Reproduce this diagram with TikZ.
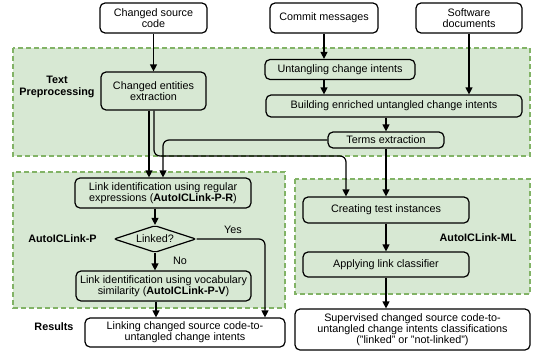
\documentclass[tikz,border=0pt]{standalone}
\usepackage{fontspec}
\setmainfont{Liberation Sans}
\usetikzlibrary{arrows.meta,shapes.geometric}
\definecolor{regfill}{RGB}{215,232,211}
\definecolor{regborder}{RGB}{130,179,102}
\newcommand\dgfont{\fontsize{10.8}{11.2}\selectfont}
\tikzset{
  region/.style={draw=regborder, fill=regfill, dash pattern=on 5pt off 3pt, line width=1.1pt},
  box/.style={draw=black, rounded corners=5pt, line width=1.2pt, inner sep=0pt, align=center, font=\dgfont},
  wbox/.style={box, fill=white},
  arr/.style={-{Triangle[length=7pt,width=7pt]}, line width=1.2pt},
  lbl/.style={font=\bfseries\dgfont, align=center, inner sep=0pt}
}
\begin{document}
\begin{tikzpicture}[x=1pt,y=-1pt]
\useasboundingbox (0,0) rectangle (534,351);
% regions
\draw[region] (13,48) rectangle (530,156);
\draw[region] (13,172) rectangle (285,308);
\draw[region] (295,179) rectangle (530,294);
% labels
\node[lbl] (ltp) at (57,87) {Text\\Preprocessing};
\node[lbl] (lp) at (62.5,239) {AutoICLink-P};
\node[lbl] (lml) at (478,238) {AutoICLink-ML};
\node[lbl] (lres) at (54,327) {Results};
% top inputs
\node[wbox, minimum width=107, minimum height=30] (csc) at (153.5,18) {Changed source\\code};
\node[wbox, minimum width=108, minimum height=30] (cm) at (324,18) {Commit messages};
\node[wbox, minimum width=106, minimum height=30] (sd) at (469,18) {Software\\documents};
% text preprocessing
\node[box, minimum width=105, minimum height=38] (cee) at (153.5,91) {Changed entities\\extraction};
\node[box, minimum width=150, minimum height=20] (uci) at (340,69.5) {Untangling change intents};
\node[box, minimum width=256, minimum height=22] (beu) at (394,106) {Building enriched untangled change intents};
\node[box, minimum width=116, minimum height=16] (te) at (386,140) {Terms extraction};
% AutoICLink-P
\node[box, minimum width=176, minimum height=30] (lir) at (163,193) {Link identification using regular\\expressions (\textbf{AutoICLink-P-R})};
\node[box, shape=diamond, rounded corners=2pt, aspect=3, minimum width=82, minimum height=27] (dia) at (155,239) {Linked?};
\node[box, minimum width=175, minimum height=30] (liv) at (163.5,286) {Link identification using vocabulary\\similarity (\textbf{AutoICLink-P-V})};
\node[lbl, font=\dgfont] (yes) at (233,230) {Yes};
\node[lbl, font=\dgfont] (no) at (180,261) {No};
% AutoICLink-ML
\node[box, minimum width=166, minimum height=26] (cti) at (386,210) {Creating test instances};
\node[box, minimum width=166, minimum height=25] (alc) at (386,264.5) {Applying link classifier};
% results
\node[wbox, minimum width=200, minimum height=29] (res) at (185,332.5) {Linking changed source code-to-\\untangled change intents};
\node[wbox, minimum width=235, minimum height=41] (sup) at (412.5,329.5) {Supervised changed source code-to-\\untangled change intents classifications\\("linked" or "not-linked")};
% connectors
\draw[arr] (csc.south) -- (cee.north);
\draw[arr] (cm.south) -- (uci.north -| cm.south);
\draw[arr] (uci.south -| cm.south) -- (beu.north -| cm.south);
\draw[arr] (sd.south) -- (beu.north -| sd.south);
\draw[arr] (beu.south -| te.north) -- (te.north);
\draw[arr] (cee.south -| 149,0) -- (lir.north -| 149,0);
\draw[arr, rounded corners=6pt] (cee.south -| 154,0) |- (346,156) -- (cti.north -| 346,0);
\draw[arr, rounded corners=6pt] (te.west) -| (lir.north -| 163,0);
\draw[arr] (te.south) -- (cti.north -| te.south);
\draw[arr] (lir.south -| dia.north) -- (dia.north);
\draw[arr] (dia.south) -- (liv.north -| dia.south);
\draw[arr] (liv.south -| 156,0) -- (res.north -| 156,0);
\draw[arr, rounded corners=6pt] (dia.east) -| (res.north -| 265,0);
\draw[arr] (cti.south) -- (alc.north);
\draw[arr] (alc.south) -- (sup.north -| alc.south);
\end{tikzpicture}
\end{document}
